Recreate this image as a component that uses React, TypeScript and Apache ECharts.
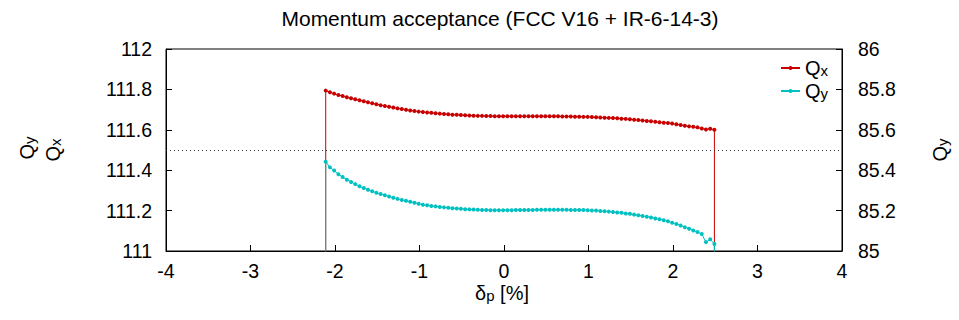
import React, { useEffect, useRef } from "react";
import * as echarts from "echarts";

// Relative momentum deviation δp [%] of each tracked particle
const dp = [
  -2.11, -2.06, -2.01, -1.96, -1.91, -1.86, -1.81, -1.76, -1.71, -1.66,
  -1.61, -1.56, -1.51, -1.46, -1.41, -1.36, -1.31, -1.26, -1.21, -1.16,
  -1.11, -1.06, -1.01, -0.96, -0.91, -0.86, -0.81, -0.76, -0.71, -0.66,
  -0.61, -0.56, -0.51, -0.46, -0.41, -0.36, -0.31, -0.26, -0.21, -0.16,
  -0.11, -0.06, -0.01, 0.04, 0.09, 0.14, 0.19, 0.24, 0.29, 0.34,
  0.39, 0.44, 0.49, 0.54, 0.59, 0.64, 0.69, 0.74, 0.79, 0.84,
  0.89, 0.94, 0.99, 1.04, 1.09, 1.14, 1.19, 1.24, 1.29, 1.34,
  1.39, 1.44, 1.49, 1.54, 1.59, 1.64, 1.69, 1.74, 1.79, 1.84,
  1.89, 1.94, 1.99, 2.04, 2.09, 2.14, 2.19, 2.24, 2.29, 2.34,
  2.39, 2.44, 2.49,
];

// Horizontal tune Qx
const qx = [
  111.794, 111.786, 111.779, 111.772, 111.767, 111.761, 111.756, 111.751, 111.746, 111.741,
  111.736, 111.731, 111.727, 111.722, 111.718, 111.714, 111.710, 111.706, 111.703, 111.699,
  111.696, 111.693, 111.690, 111.688, 111.686, 111.684, 111.682, 111.680, 111.678, 111.677,
  111.675, 111.674, 111.673, 111.672, 111.671, 111.670, 111.669, 111.669, 111.668, 111.668,
  111.667, 111.667, 111.667, 111.667, 111.667, 111.667, 111.667, 111.667, 111.667, 111.667,
  111.667, 111.667, 111.667, 111.667, 111.667, 111.667, 111.666, 111.666, 111.666, 111.665,
  111.665, 111.664, 111.664, 111.663, 111.662, 111.661, 111.660, 111.659, 111.658, 111.657,
  111.655, 111.654, 111.652, 111.650, 111.648, 111.646, 111.644, 111.642, 111.640, 111.637,
  111.635, 111.634, 111.631, 111.627, 111.624, 111.620, 111.617, 111.615, 111.612, 111.606,
  111.602, 111.605, 111.600,
];

// Vertical tune Qy
const qy = [
  85.442, 85.414, 85.398, 85.380, 85.366, 85.353, 85.342, 85.331, 85.321, 85.312,
  85.303, 85.296, 85.288, 85.282, 85.276, 85.270, 85.264, 85.258, 85.253, 85.249,
  85.244, 85.239, 85.234, 85.229, 85.226, 85.223, 85.221, 85.218, 85.216, 85.214,
  85.212, 85.210, 85.209, 85.207, 85.206, 85.205, 85.204, 85.203, 85.203, 85.202,
  85.202, 85.202, 85.202, 85.202, 85.202, 85.203, 85.203, 85.203, 85.203, 85.203,
  85.204, 85.204, 85.204, 85.204, 85.204, 85.204, 85.204, 85.204, 85.203, 85.203,
  85.203, 85.203, 85.202, 85.201, 85.200, 85.198, 85.197, 85.195, 85.193, 85.191,
  85.189, 85.186, 85.184, 85.180, 85.177, 85.173, 85.170, 85.166, 85.161, 85.157,
  85.152, 85.147, 85.140, 85.134, 85.126, 85.118, 85.110, 85.102, 85.094, 85.084,
  85.044, 85.058, 85.035,
];

// Beyond the acceptance edges the particle is lost: the tune drops out of range
const lostQx = 110;
const lostQy = 84;

// Half-integer reference line
const halfQx = 111.5;

const xTicks = { min: -4, max: 4, interval: 1 };
const qxTicks = { min: 111, max: 112, interval: 0.2 };
const qyTicks = { min: 85, max: 86, interval: 0.2 };

const FONT = "'Liberation Sans', Arial, Helvetica, sans-serif";
const RED = "#c80000";
const TEAL = "#00c0c0";

const subRich = {
  q: { fontSize: 20, fontFamily: FONT, color: "#000", fill: "#000", lineHeight: 20, verticalAlign: "top", padding: [0, 0, 4, 0] },
  s: { fontSize: 15, fontFamily: FONT, color: "#000", fill: "#000", lineHeight: 15, verticalAlign: "bottom" },
  t: { fontSize: 20, fontFamily: FONT, color: "#000", fill: "#000", lineHeight: 20, verticalAlign: "top", padding: [0, 0, 4, 0] },
};

function withEdges(values: number[], lost: number) {
  const pts: any[] = dp.map((d, i) => [d, values[i]]);
  return [
    { value: [dp[0], lost], symbol: "none" },
    ...pts,
    { value: [dp[dp.length - 1], lost], symbol: "none" },
  ];
}

export default function App() {
  const ref = useRef<HTMLDivElement>(null);

  useEffect(() => {
    if (!ref.current) return;
    const chart = echarts.init(ref.current, null, { renderer: "svg" });

    const tickStyle = { show: true, inside: true, length: 6, lineStyle: { color: "#000", width: 1 } };
    const labelStyle = { color: "#000", fontSize: 19.5, fontFamily: FONT, lineHeight: 15 };
    const lineStyle = { show: true, onZero: false, lineStyle: { color: "#000", width: 1 } };

    chart.setOption({
      animation: false,
      textStyle: { fontFamily: FONT },
      grid: {
        left: 166,
        right: 117,
        top: 49,
        bottom: 69,
        show: true,
        borderColor: "#000",
        borderWidth: 1,
        backgroundColor: "transparent",
      },
      legend: {
        orient: "vertical",
        left: 775,
        top: 53,
        itemWidth: 19,
        itemHeight: 5,
        itemGap: -1,
        data: ["Qx", "Qy"],
        formatter: (name: string) => `{q|Q}{s|${name.slice(1)}}`,
        textStyle: { rich: subRich },
      },
      xAxis: {
        type: "value",
        ...xTicks,
        axisLine: lineStyle,
        axisTick: tickStyle,
        axisLabel: { ...labelStyle, margin: 12 },
        splitLine: { show: false },
      },
      yAxis: [
        {
          type: "value",
          position: "left",
          ...qxTicks,
          axisLine: lineStyle,
          axisTick: tickStyle,
          axisLabel: { ...labelStyle, margin: 14 },
          splitLine: { show: false },
        },
        {
          type: "value",
          position: "right",
          ...qyTicks,
          axisLine: lineStyle,
          axisTick: tickStyle,
          axisLabel: { ...labelStyle, margin: 16 },
          splitLine: { show: false },
        },
      ],
      series: [
        {
          name: "Qx",
          type: "line",
          yAxisIndex: 0,
          data: withEdges(qx, lostQx),
          color: RED,
          lineStyle: { color: RED, width: 1 },
          itemStyle: { color: RED },
          symbol: "circle",
          symbolSize: 4,
          showAllSymbol: true,
          clip: true,
          markLine: {
            silent: true,
            symbol: "none",
            label: { show: false },
            lineStyle: { color: "#333", type: [1, 3], width: 1 },
            data: [{ yAxis: halfQx }],
          },
        },
        {
          name: "Qy",
          type: "line",
          yAxisIndex: 1,
          data: withEdges(qy, lostQy),
          color: TEAL,
          lineStyle: { color: TEAL, width: 1 },
          itemStyle: { color: TEAL },
          symbol: "circle",
          symbolSize: 4,
          showAllSymbol: true,
          clip: true,
        },
      ],
      graphic: [
        {
          type: "text",
          x: 500,
          y: 18,
          style: {
            text: "Momentum acceptance (FCC V16 + IR-6-14-3)",
            fill: "#000",
            fontSize: 21,
            fontFamily: FONT,
            align: "center",
            verticalAlign: "middle",
          },
        },
        {
          type: "text",
          x: 53,
          y: 150,
          rotation: Math.PI / 2,
          style: { text: "{q|Q}{s|x}", rich: subRich, align: "center", verticalAlign: "middle" },
        },
        {
          type: "text",
          x: 27,
          y: 148,
          rotation: Math.PI / 2,
          style: { text: "{q|Q}{s|y}", rich: subRich, align: "center", verticalAlign: "middle" },
        },
        {
          type: "text",
          x: 940,
          y: 150,
          rotation: Math.PI / 2,
          style: { text: "{q|Q}{s|y}", rich: subRich, align: "center", verticalAlign: "middle" },
        },
        {
          type: "text",
          x: 502,
          y: 293,
          style: { text: "{q|δ}{s|p}{t| [%]}", rich: subRich, align: "center", verticalAlign: "middle" },
        },
      ],
    });

    return () => chart.dispose();
  }, []);

  return (
    <div
      ref={ref}
      style={{ position: "fixed", left: 0, top: 0, width: 959, height: 320, background: "#fff" }}
    />
  );
}
